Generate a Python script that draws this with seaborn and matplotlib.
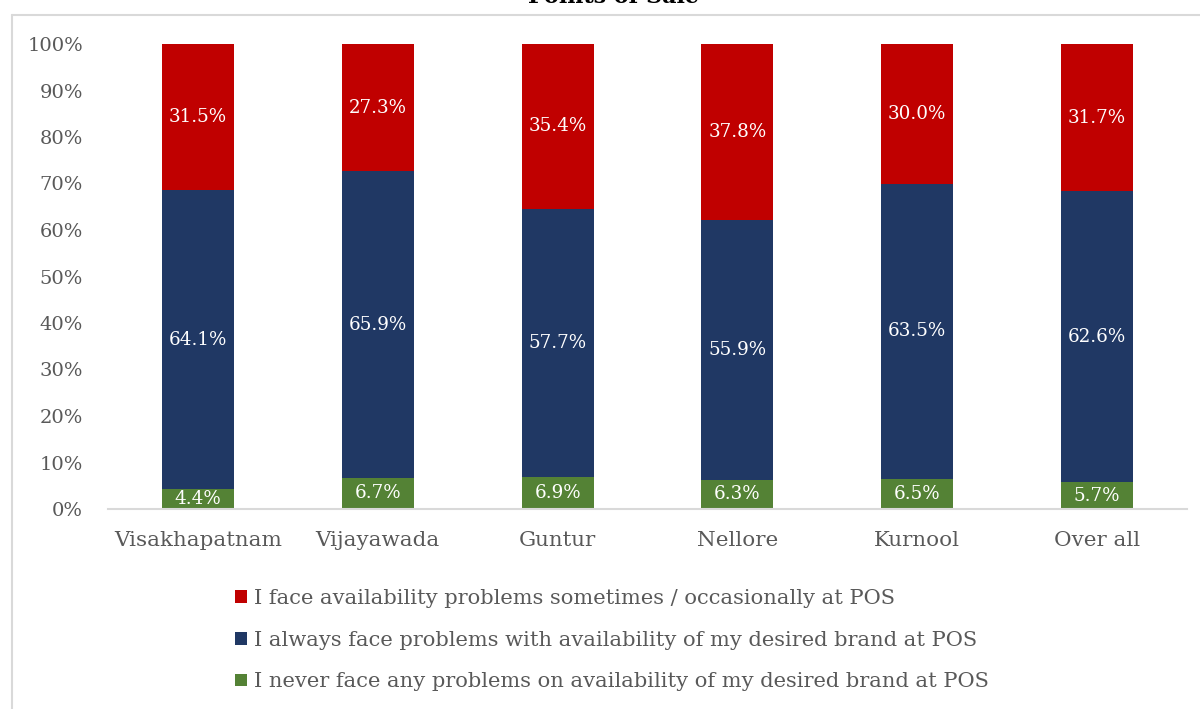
import matplotlib
matplotlib.use("Agg")
import matplotlib.pyplot as plt
from matplotlib.lines import Line2D
from matplotlib.patches import Patch
import seaborn as sns
import pandas as pd
import numpy as np

# Survey shares (%) per city
cities = ["Visakhapatnam", "Vijayawada", "Guntur", "Nellore", "Kurnool", "Over all"]
never_face = [4.4, 6.7, 6.9, 6.3, 6.5, 5.7]
always_face = [64.1, 65.9, 57.7, 55.9, 63.5, 62.6]
sometimes_face = [31.5, 27.3, 35.4, 37.8, 30.0, 31.7]

series_names = [
    "I face availability problems sometimes / occasionally at POS",
    "I always face problems with availability of my desired brand at POS",
    "I never face any problems on availability of my desired brand at POS",
]
y_ticks = [0, 10, 20, 30, 40, 50, 60, 70, 80, 90, 100]
title_text = "Points of Sale"

RED = "#C00000"
NAVY = "#203864"
GREEN = "#548235"
GREY = "#595959"
LINE = "#D9D9D9"

sns.set_theme(style="white")
plt.rcParams["font.family"] = ["DejaVu Serif"]

df = pd.DataFrame({
    "city": cities,
    "never": never_face,
    "always": always_face,
    "sometimes": sometimes_face,
})
df["top_never"] = df["never"]
df["top_always"] = df["never"] + df["always"]
df["top_sometimes"] = df["top_always"] + df["sometimes"]

fig = plt.figure(figsize=(12, 7.09), dpi=100)
ax = fig.add_axes([108 / 1200, 1 - 509 / 709, (1187 - 108) / 1200, (509 - 44) / 709])

bw = 0.40
# stacked bars drawn as cumulative layers, tallest first
sns.barplot(data=df, x="city", y="top_sometimes", color=RED, width=bw,
            saturation=1, ax=ax, linewidth=0)
sns.barplot(data=df, x="city", y="top_always", color=NAVY, width=bw,
            saturation=1, ax=ax, linewidth=0)
sns.barplot(data=df, x="city", y="top_never", color=GREEN, width=bw,
            saturation=1, ax=ax, linewidth=0)

# segment value labels
lbl_size = 13.2
for i, row in df.iterrows():
    ax.text(i, row["never"] / 2, f"{row['never']:.1f}%", ha="center", va="center",
            color="white", fontsize=lbl_size)
    ax.text(i, row["never"] + row["always"] / 2, f"{row['always']:.1f}%", ha="center",
            va="center", color="white", fontsize=lbl_size)
    ax.text(i, row["top_always"] + row["sometimes"] / 2, f"{row['sometimes']:.1f}%",
            ha="center", va="center", color="white", fontsize=lbl_size)

ax.set_xlim(-0.5, len(cities) - 0.5)
ax.set_ylim(0, 100)
ax.set_yticks(y_ticks)
ax.set_yticklabels([f"{t}%" for t in y_ticks])
ax.set_xlabel("")
ax.set_ylabel("")

for side in ["top", "right", "left"]:
    ax.spines[side].set_visible(False)
ax.spines["bottom"].set_color(LINE)
ax.spines["bottom"].set_linewidth(1.5)

ax.tick_params(axis="y", length=0, pad=18, labelsize=14, labelcolor=GREY)
ax.tick_params(axis="x", which="major", length=0, pad=16, labelsize=15.4, labelcolor=GREY)
ax.set_xticks(np.arange(-0.5, len(cities), 1.0), minor=True)
ax.tick_params(axis="x", which="minor", length=5.5, width=1.5, color=LINE)
ax.grid(False)

# legend below the plot
handles = [Patch(facecolor=c, edgecolor="none") for c in (RED, NAVY, GREEN)]
leg = fig.legend(handles, series_names, loc="upper left",
                 bbox_to_anchor=(235 / 1200, 1 - 589 / 709),
                 frameon=False, fontsize=15.1, labelcolor=GREY,
                 handlelength=0.55, handleheight=0.55, handletextpad=0.35,
                 labelspacing=1.08, borderpad=0, borderaxespad=0)

# chart title sits at the top edge
fig.text(613 / 1200, 1 - 3 / 709, title_text, ha="center", va="baseline",
         fontsize=16, fontweight="bold", color="black")

# outer chart frame
fig.add_artist(Line2D([12 / 1200, 1.0], [1 - 15 / 709, 1 - 15 / 709],
                      transform=fig.transFigure, color=LINE, linewidth=1.5))
fig.add_artist(Line2D([12 / 1200, 12 / 1200], [0, 1 - 15 / 709],
                      transform=fig.transFigure, color=LINE, linewidth=1.5))

fig.savefig("out.png", dpi=100)
